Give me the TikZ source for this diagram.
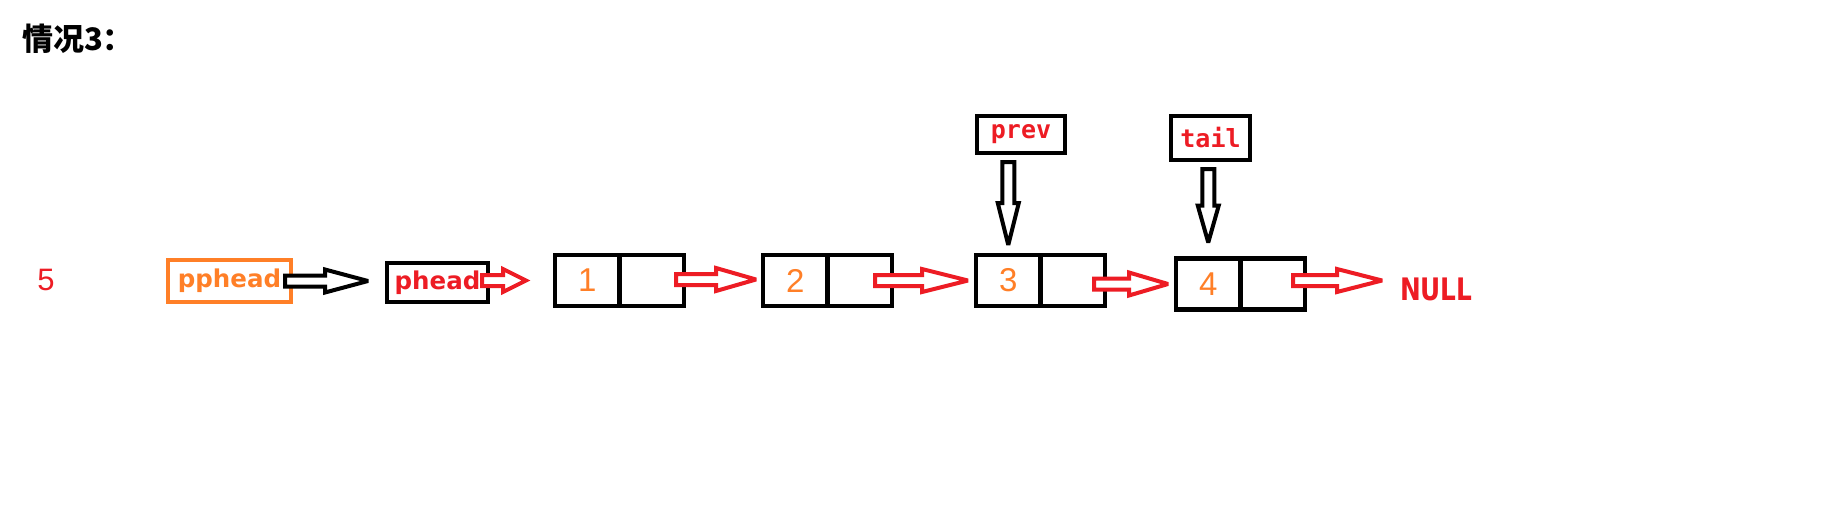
\documentclass[tikz,border=0pt]{standalone}
\usepackage{fontspec}
\setmainfont{DejaVu Sans}
\newfontfamily\cjkfont{Noto Sans CJK SC}
\newfontfamily\labfont{DejaVu Sans}
\newfontfamily\monofont{DejaVu Sans Mono}
\newfontfamily\narrowfont[FakeStretch=0.8]{DejaVu Sans}
\newfontfamily\digitfont{Liberation Sans}
\usetikzlibrary{calc}
\definecolor{pred}{HTML}{ED1C24}
\definecolor{porange}{HTML}{FF7F27}
\tikzset{
  box/.style={draw=black, line width=4.3pt, inner sep=0pt, outer sep=0pt},
  cell/.style={box, minimum width=64.5pt, minimum height=51pt,
    font=\digitfont\fontsize{33}{36}\selectfont, text=porange},
  lbl/.style={inner sep=0pt, outer sep=0pt},
  blackarrow/.style={draw=black, line width=4pt, fill=white, line join=miter, miter limit=3},
  redarrow/.style={draw=pred, line width=4pt, fill=white, line join=miter, miter limit=3}
}
% horizontal hollow arrow: style, start, end, head length
\newcommand{\harrow}[4]{%
  \draw[#1] let \p1=#2, \p2=#3 in
    (\x1,\y1+5.5pt) -- (\x2-#4,\y1+5.5pt) -- (\x2-#4,\y1+11.5pt) -- (\x2,\y1)
    -- (\x2-#4,\y1-11.5pt) -- (\x2-#4,\y1-5.5pt) -- (\x1,\y1-5.5pt) -- cycle;}
% vertical (downward) hollow arrow: style, start, end, head length
\newcommand{\varrow}[4]{%
  \draw[#1] let \p1=#2, \p2=#3 in
    (\x1-6pt,\y1) -- (\x1-6pt,\y2+#4) -- (\x1-10.5pt,\y2+#4) -- (\x1,\y2)
    -- (\x1+10.5pt,\y2+#4) -- (\x1+6pt,\y2+#4) -- (\x1+6pt,\y1) -- cycle;}
\begin{document}
\begin{tikzpicture}[x=1pt, y=-1pt]
\useasboundingbox[fill=white] (0,0) rectangle (1835,527);

% title
\node[lbl, anchor=base west, font=\cjkfont\bfseries\fontsize{31}{34}\selectfont] (title) at (22,51) {情况3：};

% the lone 5
\node[lbl, anchor=base, text=pred, font=\digitfont\fontsize{31}{34}\selectfont] (five) at (46,290) {5};

% pointer boxes
\node[box, draw=porange, minimum width=123pt, minimum height=42pt,
  text=porange, font=\labfont\bfseries\fontsize{24.5}{28}\selectfont] (pphead) at (229.5,281) {pphead};
\node[box, minimum width=101pt, minimum height=39pt,
  text=pred, font=\labfont\bfseries\fontsize{24.5}{28}\selectfont] (phead) at (437.5,282.5) {phead};

% list nodes
\node[cell] (n1a) at (587.25,280.5) {1};
\node[cell] (n1b) at (651.75,280.5) {};
\node[cell] (n2a) at (795.25,280.5) {2};
\node[cell] (n2b) at (859.75,280.5) {};
\node[cell] (n3a) at (1008.25,280.5) {3};
\node[cell] (n3b) at (1072.75,280.5) {};
\node[cell] (n4a) at (1208.25,284) {4};
\node[cell] (n4b) at (1272.75,284) {};

% NULL
\node[lbl, anchor=base west, text=pred, font=\narrowfont\bfseries\fontsize{31}{34}\selectfont] (null) at (1400,300) {NULL};

% prev / tail boxes
\node[box, minimum width=88pt, minimum height=37pt, text=pred,
  font=\monofont\bfseries\fontsize{25}{28}\selectfont] (prev) at (1021,134.5) {prev};
\node[box, minimum width=79pt, minimum height=44pt, text=pred,
  font=\monofont\bfseries\fontsize{25}{28}\selectfont] (tail) at (1210.5,138) {tail};

% horizontal arrows
\harrow{blackarrow}{([xshift=-6pt]pphead.east)}{([xshift=-19pt]phead.west)}{43pt}
\harrow{redarrow}{([xshift=-6pt,yshift=2pt]phead.east)}{([xshift=-29pt]n1a.west)}{23pt}
\harrow{redarrow}{([xshift=-8pt,yshift=1pt]n1b.east)}{([xshift=-7pt]n2a.west)}{40pt}
\harrow{redarrow}{([xshift=-17pt]n2b.east)}{([xshift=-8pt]n3a.west)}{46pt}
\harrow{redarrow}{([xshift=-11pt,yshift=-3.5pt]n3b.east)}{([xshift=-8pt]n4a.west)}{39pt}
\harrow{redarrow}{([xshift=-12pt,yshift=3.5pt]n4b.east)}{([xshift=-18pt]null.west)}{45pt}

% vertical arrows
\coordinate (ps) at ([yshift=-9pt]prev.south);
\coordinate (ts) at ([yshift=-9pt]tail.south);
\varrow{blackarrow}{(ps -| n3a.north)}{([yshift=10pt]n3a.north)}{42pt}
\varrow{blackarrow}{(ts -| n4a.north)}{([yshift=16pt]n4a.north)}{37pt}
\end{tikzpicture}
\end{document}
